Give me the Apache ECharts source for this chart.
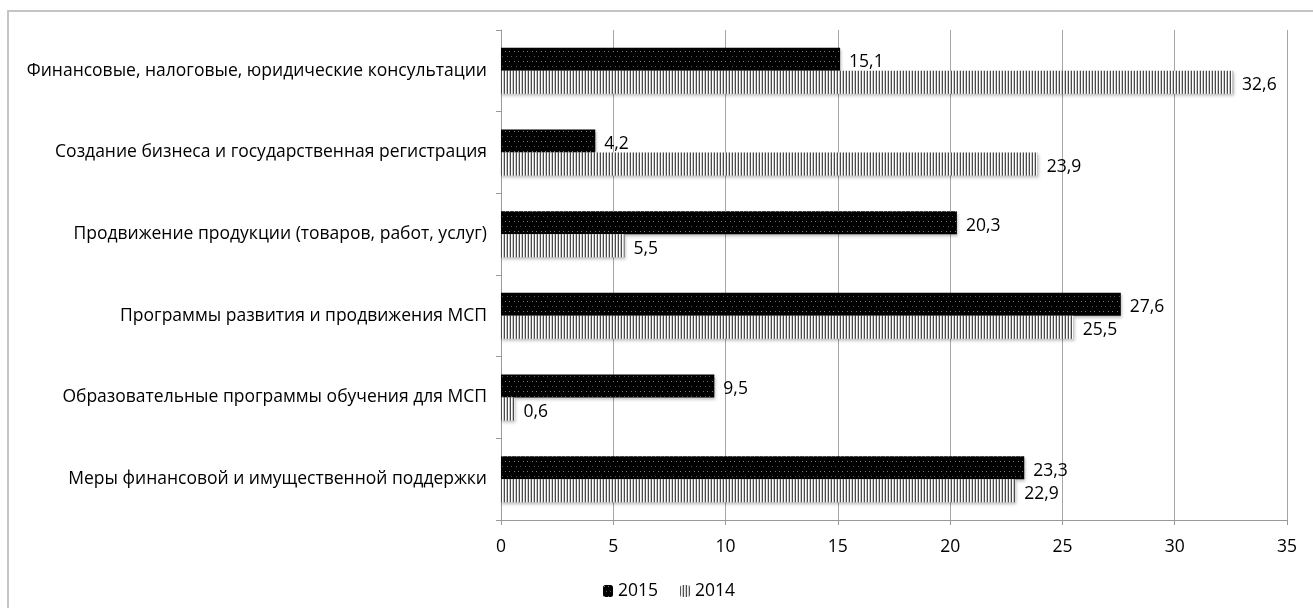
<!DOCTYPE html>
<html><head><meta charset="utf-8">
<script src="https://cdn.jsdelivr.net/npm/echarts@6/dist/echarts.min.js"></script>
<style>html,body{margin:0;padding:0;background:#fff}#c{width:1313px;height:608px}</style>
</head><body><div id="c"></div>
<script>
const categories = [
  'Финансовые, налоговые, юридические консультации',
  'Создание бизнеса и государственная регистрация',
  'Продвижение продукции (товаров, работ, услуг)',
  'Программы развития и продвижения МСП',
  'Образовательные программы обучения для МСП',
  'Меры финансовой и имущественной поддержки'
];
const seriesNames = ['2015', '2014'];
const values2015 = [15.1, 4.2, 20.3, 27.6, 9.5, 23.3];
const values2014 = [32.6, 23.9, 5.5, 25.5, 0.6, 22.9];
const xTicks = { min: 0, max: 35, interval: 5 };

function dotPattern() {
  const c = document.createElement('canvas'); c.width = 9; c.height = 10;
  const g = c.getContext('2d');
  g.fillStyle = '#000'; g.fillRect(0, 0, 9, 10);
  g.fillStyle = '#7a7a7a';
  g.fillRect(1, 1, 1, 1); g.fillRect(5, 1, 1, 1);
  g.fillStyle = '#555';
  g.fillRect(3, 6, 1, 1); g.fillRect(7, 6, 1, 1);
  return { image: c, repeat: 'repeat' };
}
function stripePattern() {
  const c = document.createElement('canvas'); c.width = 3; c.height = 4;
  const g = c.getContext('2d');
  g.fillStyle = '#fff'; g.fillRect(0, 0, 3, 4);
  g.fillStyle = '#4a4a4a'; g.fillRect(0, 0, 1, 4);
  g.fillStyle = '#c8c8c8'; g.fillRect(2, 0, 1, 4);
  return { image: c, repeat: 'repeat' };
}
const fmt = p => String(p.value).replace('.', ',');
const FONT = 'Open Sans';
const FS = 17.5;
const labelCfg = { show: true, position: 'right', distance: 9, offset: [0, 3], formatter: fmt, fontSize: FS, color: '#000', fontFamily: FONT };

const chart = echarts.init(document.getElementById('c'), null, { renderer: 'canvas' });
chart.setOption({
  animation: false,
  backgroundColor: '#fff',
  textStyle: { fontFamily: FONT },
  graphic: [{
    type: 'polyline', shape: { points: [[8, 640], [8, 11], [1340, 11]] },
    style: { stroke: '#c4c4c4', lineWidth: 2, fill: null }, silent: true
  }],
  grid: { left: 501, right: 26, top: 30, bottom: 88, containLabel: false },
  legend: {
    data: seriesNames, top: 577, left: 598,
    itemWidth: 10, itemHeight: 12, itemGap: 22,
    textStyle: { fontSize: FS, color: '#000', fontFamily: FONT }
  },
  xAxis: {
    type: 'value', min: xTicks.min, max: xTicks.max, interval: xTicks.interval,
    axisLine: { show: true, lineStyle: { color: '#999', width: 1 } },
    axisTick: { show: true, length: 5, lineStyle: { color: '#999' } },
    splitLine: { show: true, lineStyle: { color: '#a6a6a6', width: 1 } },
    axisLabel: { fontSize: FS, color: '#000', margin: 18, fontFamily: FONT }
  },
  yAxis: {
    type: 'category', data: categories, inverse: true,
    axisLine: { show: true, lineStyle: { color: '#999', width: 1 } },
    axisTick: { show: true, length: 5, lineStyle: { color: '#999' } },
    axisLabel: { fontSize: FS, color: '#000', margin: 14, fontFamily: FONT }
  },
  series: [
    { name: seriesNames[0], type: 'bar', data: values2015, barWidth: 23, barGap: '0%',
      itemStyle: { color: dotPattern(), shadowColor: 'rgba(0,0,0,0.25)', shadowBlur: 3, shadowOffsetY: 2, shadowOffsetX: 1 },
      label: labelCfg },
    { name: seriesNames[1], type: 'bar', data: values2014, barWidth: 23, barGap: '0%',
      itemStyle: { color: stripePattern(), shadowColor: 'rgba(0,0,0,0.25)', shadowBlur: 3, shadowOffsetY: 2, shadowOffsetX: 1 },
      label: labelCfg }
  ]
});
</script></body></html>
